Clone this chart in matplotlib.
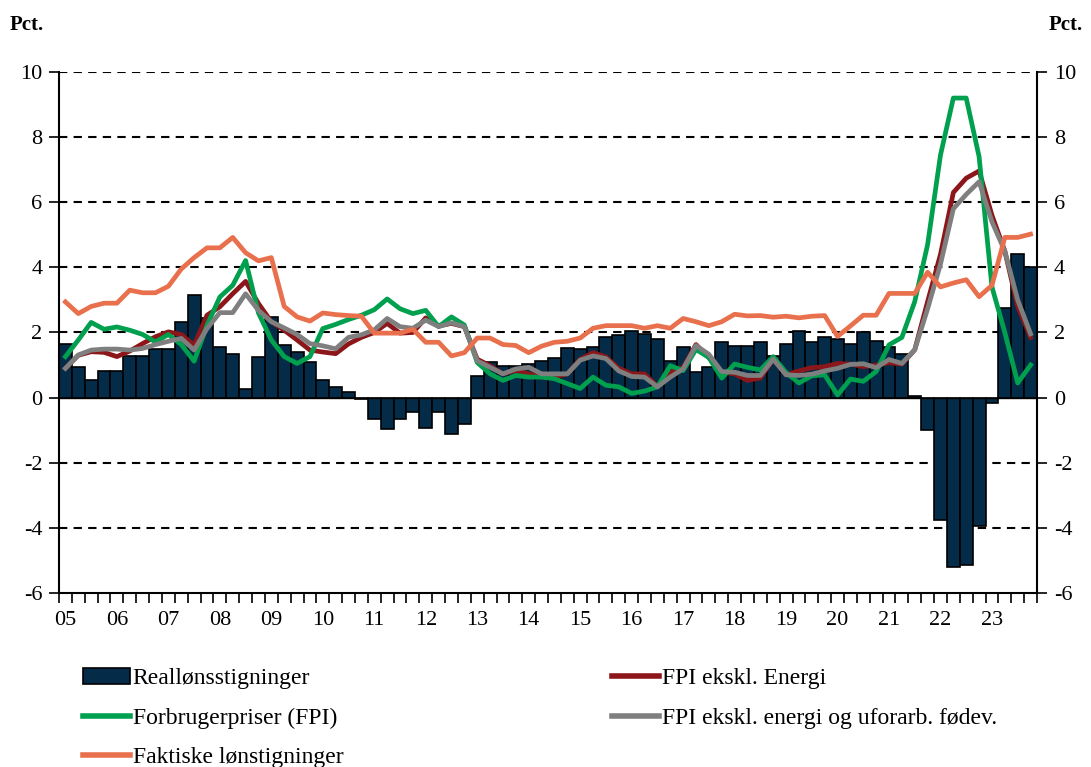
import matplotlib.pyplot as plt
import numpy as np
from matplotlib.patches import Patch
from matplotlib.lines import Line2D
from matplotlib.ticker import FixedLocator

plt.rcParams['font.family'] = ['Liberation Serif', 'DejaVu Serif']
plt.rcParams['axes.unicode_minus'] = False

# Årstal under akserne (et label for hvert 4. kvartal)
year_labels = ['05', '06', '07', '08', '09', '10', '11', '12', '13', '14',
               '15', '16', '17', '18', '19', '20', '21', '22', '23']

# Kvartalsvise værdier, pct. år-til-år
real_wage = [1.65, 0.94, 0.53, 0.83, 0.83, 1.29, 1.29, 1.5, 1.5, 2.31, 3.15, 2.43,
             1.55, 1.34, 0.25, 1.24, 2.48, 1.62, 1.39, 1.09, 0.53, 0.33, 0.17, -0.05,
             -0.66, -0.97, -0.66, -0.44, -0.93, -0.44, -1.13, -0.82, 0.65, 1.08, 0.97, 0.97,
             1.02, 1.12, 1.22, 1.52, 1.48, 1.57, 1.85, 1.92, 2.06, 1.95, 1.8, 1.14,
             1.55, 0.78, 0.94, 1.7, 1.6, 1.6, 1.7, 1.29, 1.65, 2.06, 1.7, 1.85,
             1.8, 1.65, 2.0, 1.75, 1.55, 1.35, 0.05, -1.0, -3.75, -5.2, -5.15, -3.95,
             -0.15, 2.75, 4.4, 4.0]

cpi = [1.26, 1.77, 2.31, 2.1, 2.17, 2.07, 1.94, 1.71, 1.94, 1.63, 1.12, 2.22,
       3.09, 3.45, 4.21, 2.6, 1.77, 1.26, 1.05, 1.26, 2.12, 2.25, 2.4, 2.53,
       2.7, 3.03, 2.73, 2.58, 2.68, 2.18, 2.48, 2.23, 1.08, 0.73, 0.53, 0.68,
       0.63, 0.63, 0.58, 0.43, 0.28, 0.63, 0.38, 0.33, 0.13, 0.2, 0.33, 0.98,
       0.83, 1.48, 1.23, 0.6, 1.03, 0.93, 0.85, 1.26, 0.77, 0.45, 0.67, 0.7,
       0.08, 0.57, 0.5, 0.8, 1.62, 1.85, 2.95, 4.7, 7.45, 9.2, 9.2, 7.4,
       3.4, 2.0, 0.45, 1.0]

cpi_ex_energy = [0.9, 1.3, 1.41, 1.39, 1.26, 1.43, 1.66, 1.87, 2.02, 1.94, 1.61, 2.53,
                 2.79, 3.19, 3.57, 2.89, 2.33, 2.07, 1.77, 1.46, 1.4, 1.35, 1.65, 1.85,
                 2.0, 2.28, 1.98, 2.0, 2.45, 2.2, 2.28, 2.18, 1.18, 0.98, 0.73, 0.83,
                 0.73, 0.63, 0.63, 0.73, 1.18, 1.38, 1.25, 0.9, 0.73, 0.73, 0.35, 0.78,
                 0.93, 1.63, 1.23, 0.78, 0.73, 0.53, 0.6, 1.18, 0.7, 0.82, 0.92, 0.95,
                 1.05, 1.03, 0.95, 1.0, 1.07, 1.03, 1.47, 2.95, 4.4, 6.3, 6.74, 6.96,
                 5.6, 4.5, 2.8, 1.85]

cpi_core = [0.9, 1.31, 1.46, 1.49, 1.49, 1.46, 1.51, 1.63, 1.73, 1.82, 1.46, 2.12,
            2.61, 2.61, 3.19, 2.68, 2.33, 2.14, 1.94, 1.66, 1.59, 1.5, 1.85, 1.93,
            2.08, 2.43, 2.18, 2.13, 2.38, 2.18, 2.3, 2.18, 1.13, 0.93, 0.73, 0.88,
            0.93, 0.73, 0.73, 0.73, 1.15, 1.28, 1.2, 0.82, 0.65, 0.63, 0.33, 0.63,
            0.88, 1.6, 1.33, 0.8, 0.78, 0.68, 0.68, 1.18, 0.7, 0.68, 0.72, 0.82,
            0.9, 1.02, 1.04, 0.92, 1.17, 1.05, 1.47, 2.73, 4.1, 5.8, 6.24, 6.63,
            5.4, 4.5, 3.0, 1.96]

wages = [2.94, 2.58, 2.8, 2.9, 2.9, 3.3, 3.22, 3.22, 3.42, 3.95, 4.3, 4.6,
         4.6, 4.92, 4.45, 4.2, 4.3, 2.8, 2.48, 2.35, 2.6, 2.55, 2.52, 2.5,
         1.98, 1.98, 1.98, 2.1, 1.7, 1.7, 1.28, 1.38, 1.83, 1.83, 1.63, 1.6,
         1.38, 1.58, 1.7, 1.73, 1.83, 2.13, 2.21, 2.21, 2.21, 2.13, 2.21, 2.13,
         2.43, 2.33, 2.21, 2.33, 2.56, 2.51, 2.52, 2.47, 2.5, 2.45, 2.5, 2.52,
         1.88, 2.2, 2.53, 2.53, 3.2, 3.2, 3.2, 3.85, 3.4, 3.52, 3.62, 3.1,
         3.45, 4.92, 4.92, 5.02]

c_bar = '#042C48'
c_red = '#8C1619'
c_green = '#00A04F'
c_gray = '#7F7F7F'
c_orange = '#E8704D'

x = np.arange(len(real_wage))

fig = plt.figure(figsize=(10.91, 7.67), dpi=100)
ax = fig.add_axes([59 / 1091, 1 - 593 / 767, 978 / 1091, 521 / 767])

# stiplede gitterlinjer
for v in range(-4, 11, 2):
    if v != 0:
        ax.axhline(v, color='black', lw=1.5, ls=(0, (4, 3)), zorder=1)

ax.bar(x, real_wage, width=1.0, color=c_bar, edgecolor='black', linewidth=1.2, zorder=2)
ax.axhline(0, color='black', lw=1.0, zorder=2.5)

lw = 3.4
ax.plot(x, cpi_ex_energy, color=c_red, lw=lw, zorder=3)
ax.plot(x, cpi, color=c_green, lw=lw, zorder=4)
ax.plot(x, cpi_core, color=c_gray, lw=lw, zorder=5)
ax.plot(x, wages, color=c_orange, lw=lw, zorder=6)

ax.set_xlim(-0.5, len(x) - 0.5)
ax.set_ylim(-6, 10)
ax.set_yticks(range(-6, 11, 2))
ax.set_xticks(np.arange(0, len(x), 4))
ax.set_xticklabels(year_labels)
ax.xaxis.set_minor_locator(FixedLocator(np.arange(-0.5, len(x), 1)))

ax.spines['top'].set_visible(False)
for s in ['left', 'right', 'bottom']:
    ax.spines[s].set_linewidth(1.5)

ax.tick_params(axis='x', which='major', length=0, pad=13, labelsize=16)
ax.tick_params(axis='x', which='minor', length=7, width=1.2, direction='out')
ax.tick_params(axis='y', which='major', length=7, width=1.2, direction='out',
               labelsize=16, right=True, labelright=True, pad=5)

fig.text(10 / 1091, 1 - 25 / 767, 'Pct.', fontsize=15, fontweight='bold', va='center', ha='left')
fig.text(1083 / 1091, 1 - 25 / 767, 'Pct.', fontsize=15, fontweight='bold', va='center', ha='right')

h_bar = Patch(facecolor=c_bar, edgecolor='black', linewidth=1.2)
h_red = Line2D([], [], color=c_red, lw=4)
h_green = Line2D([], [], color=c_green, lw=4)
h_gray = Line2D([], [], color=c_gray, lw=4)
h_orange = Line2D([], [], color=c_orange, lw=4)

leg_kw = dict(loc='upper left', frameon=False, fontsize=17, handlelength=2.0,
              handletextpad=0.1, labelspacing=0.78, borderpad=0, borderaxespad=0,
              handleheight=0.65)
fig.legend([h_bar, h_green, h_orange],
           ['Reallønsstigninger', 'Forbrugerpriser (FPI)', 'Faktiske lønstigninger'],
           bbox_to_anchor=(83 / 1091, 1 - 668 / 767), **leg_kw)
fig.legend([h_red, h_gray],
           ['FPI ekskl. Energi', 'FPI ekskl. energi og uforarb. fødev.'],
           bbox_to_anchor=(612 / 1091, 1 - 668 / 767), **leg_kw)

fig.savefig('out.png', dpi=100)
